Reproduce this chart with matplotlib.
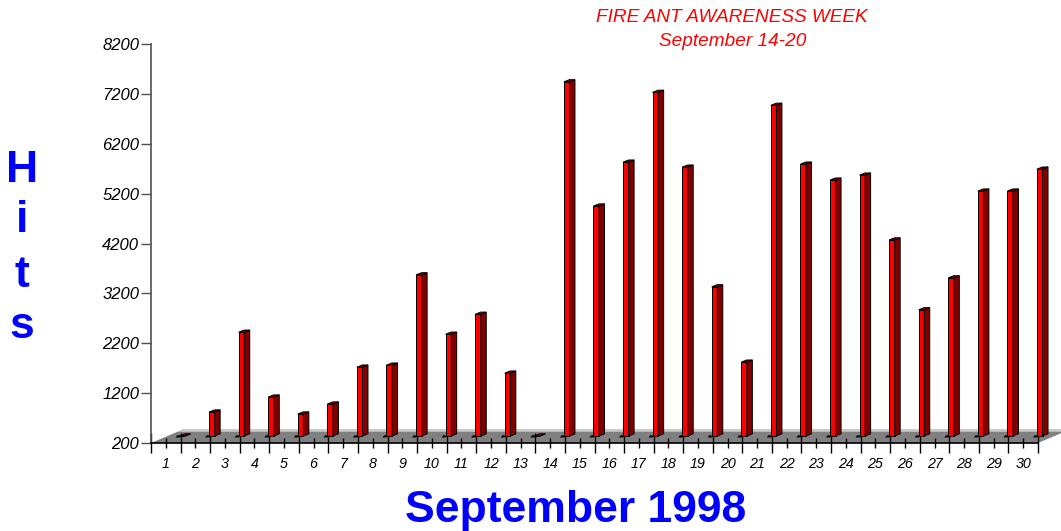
import matplotlib
matplotlib.use("Agg")
import matplotlib.pyplot as plt
from matplotlib.patches import Polygon
import numpy as np

# daily hits, September 1998
days = list(range(1, 31))
hits = [200, 680, 2280, 980, 640, 840, 1580, 1620, 3430, 2240,
        2640, 1460, 200, 7300, 4810, 5690, 7090, 5590, 3190, 1680,
        6830, 5650, 5330, 5430, 4130, 2730, 3370, 5110, 5110, 5550]
y_ticks = [200, 1200, 2200, 3200, 4200, 5200, 6200, 7200, 8200]

title_lines = ["FIRE ANT AWARENESS WEEK", "September 14-20"]
x_title = "September 1998"
y_title = ["H", "i", "t", "s"]

W, H = 1061, 531
FONT = "Liberation Sans"
plt.rcParams["font.family"] = [FONT, "DejaVu Sans"]

fig = plt.figure(figsize=(W / 100, H / 100), dpi=100)
ax = fig.add_axes([151 / W, (H - 443) / H, 887 / W, 399 / H])
ymin, ymax = 200, 8200
ax.set_xlim(0.5, 30.5)
ax.set_ylim(ymin, ymax)

# pseudo 3D depth, in data units
px_x = 887 / 30.0          # px per category
px_y = 399 / (ymax - ymin)  # px per hit
floor_dx, floor_dy = 33 / px_x, 14 / px_y
mid_dx, mid_dy = floor_dx / 2, floor_dy / 2
side_dx, side_dy = 5.5 / px_x, 2.2 / px_y
bar_w = 5.6 / px_x

# floor
x0, x1 = 0.5, 30.5
floor = Polygon([(x0, ymin), (x1, ymin), (x1 + floor_dx, ymin + floor_dy),
                 (x0 + floor_dx, ymin + floor_dy)], closed=True,
                facecolor="#808080", edgecolor="none", clip_on=False, zorder=1)
ax.add_patch(floor)
t = 0.8
strip = Polygon([(x0 + floor_dx * t, ymin + floor_dy * t), (x1 + floor_dx * t, ymin + floor_dy * t),
                 (x1 + floor_dx, ymin + floor_dy), (x0 + floor_dx, ymin + floor_dy)],
                closed=True, facecolor="#c8c8c8", edgecolor="none", clip_on=False, zorder=1)
ax.add_patch(strip)

# bars
base = ymin + mid_dy
xs = np.array(days) + mid_dx
vals = np.array(hits, dtype=float)
ax.bar(xs, vals - ymin, bottom=base, width=bar_w, color="#ff0000",
       edgecolor="black", linewidth=0.7, zorder=3, clip_on=False)
for xc, v in zip(xs, vals):
    left, right = xc - bar_w / 2, xc + bar_w / 2
    top = base + (v - ymin)
    side = Polygon([(right, base), (right + side_dx, base + side_dy),
                    (right + side_dx, top + side_dy), (right, top)], closed=True,
                   facecolor="#800000", edgecolor="black", linewidth=0.7, zorder=3, clip_on=False)
    cap = Polygon([(left, top), (right, top), (right + side_dx, top + side_dy),
                   (left + side_dx, top + side_dy)], closed=True,
                  facecolor="#a00000", edgecolor="black", linewidth=0.7, zorder=4, clip_on=False)
    shadow = Polygon([(left - 4 / px_x, base - 1.5 / px_y), (left, base - 1.5 / px_y),
                      (left + 1 / px_x, base), (left - 2 / px_x, base + 1 / px_y)], closed=True,
                     facecolor="black", edgecolor="none", zorder=2, clip_on=False)
    ax.add_patch(side)
    ax.add_patch(cap)
    ax.add_patch(shadow)

# axes styling
for s in ["top", "right"]:
    ax.spines[s].set_visible(False)
ax.spines["left"].set_color("#505050")
ax.spines["left"].set_linewidth(1.2)
ax.spines["bottom"].set_color("black")
ax.spines["bottom"].set_linewidth(1.2)
ax.spines["bottom"].set_zorder(5)

ax.set_yticks(y_ticks)
ax.set_yticklabels([str(v) for v in y_ticks], fontsize=12, fontstyle="italic")
ax.tick_params(axis="y", direction="out", length=7, width=1, color="#505050", pad=1.5)

ax.set_xticks(days)
ax.set_xticklabels([str(d) for d in days], fontsize=10.3, fontstyle="italic")
ax.set_xticks(np.arange(0.5, 31, 1.0), minor=True)
ax.tick_params(axis="x", which="major", direction="inout", length=7, width=1, pad=6.5)
ax.tick_params(axis="x", which="minor", direction="inout", length=14, width=1)

# titles
fig.text(732 / W, 1 - 17 / H, title_lines[0], color="#ff0000", fontsize=13.7,
         fontstyle="italic", ha="center", va="center")
fig.text(733 / W, 1 - 42 / H, title_lines[1], color="#ff0000", fontsize=13.7,
         fontstyle="italic", ha="center", va="center")
fig.text(576 / W, 1 - 522 / H, x_title, color="#0000ff", fontsize=32,
         fontweight="bold", ha="center", va="baseline")
for ch, yb in zip(y_title, [182, 232, 287, 338]):
    fig.text(22 / W, 1 - yb / H, ch, color="#0000ff", fontsize=32,
             fontweight="bold", ha="center", va="baseline")

fig.savefig("out.png", dpi=100)
